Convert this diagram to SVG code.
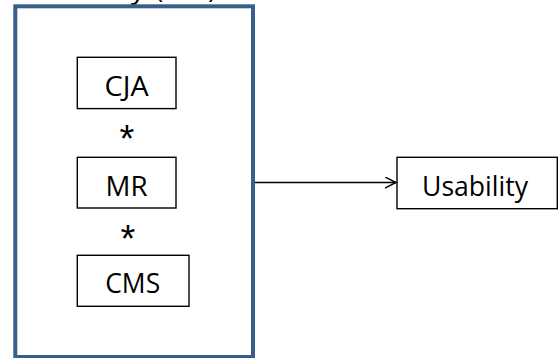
<svg xmlns="http://www.w3.org/2000/svg" width="559" height="358" viewBox="0 0 559 358">
<defs>
<style>
.box{fill:#fff;stroke:#000;stroke-width:1.4}
.lbl{font-family:"Open Sans","Liberation Sans",Arial,sans-serif;font-size:28px;fill:#000;text-anchor:middle}
.star{font-family:"Liberation Sans",Arial,sans-serif;font-size:38px;fill:#000;text-anchor:middle}
.frag{font-family:"Open Sans","Liberation Sans",Arial,sans-serif;font-size:28px;fill:#000}
.conn{stroke:#000;stroke-width:1.4;fill:none}
</style>
<marker id="arr" markerWidth="14" markerHeight="14" refX="11" refY="6" orient="auto" markerUnits="userSpaceOnUse">
<path d="M0,0.5 L11,6 L0,11.5" fill="none" stroke="#000" stroke-width="1.4"/>
</marker>
</defs>
<rect width="559" height="358" fill="#fff"/>
<g id="title-fragment">
<text class="frag" x="131" y="-2">y</text>
<text class="frag" x="155" y="-2">(</text>
<text class="frag" x="208" y="-2">)</text>
</g>
<g id="frame">
<rect x="15.3" y="6.3" width="237.7" height="350.7" fill="#fff" stroke="#3A5E8C" stroke-width="4"/>
</g>
<g id="node-cja">
<rect class="box" x="77.3" y="57.3" width="98.7" height="51.3"/>
<text class="lbl" x="126.6" y="95.7" textLength="44" lengthAdjust="spacingAndGlyphs">CJA</text>
</g>
<g id="star1">
<text class="star" x="127" y="152">*</text>
</g>
<g id="node-mr">
<rect class="box" x="77.3" y="157.3" width="98.7" height="50.7"/>
<text class="lbl" x="126.6" y="195.6" textLength="42" lengthAdjust="spacingAndGlyphs">MR</text>
</g>
<g id="star2">
<text class="star" x="128" y="252">*</text>
</g>
<g id="node-cms">
<rect class="box" x="77.3" y="255.3" width="111.7" height="51"/>
<text class="lbl" x="132.7" y="293.4" textLength="55" lengthAdjust="spacingAndGlyphs">CMS</text>
</g>
<g id="node-usability">
<rect class="box" x="397" y="157.3" width="160.3" height="51.4"/>
<text class="lbl" x="475" y="195.7" textLength="106" lengthAdjust="spacingAndGlyphs">Usability</text>
</g>
<g id="connectors">
<line class="conn" x1="255" y1="182.5" x2="396" y2="182.5" marker-end="url(#arr)"/>
</g>
</svg>
